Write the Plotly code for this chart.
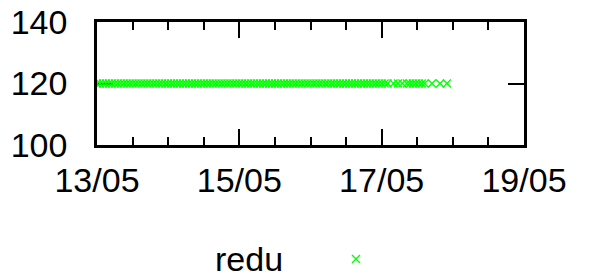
import numpy as np
import plotly.graph_objects as go

# Data: hours since 13/05 00:00 and measured values (series "redu")
series_name = "redu"
start_date = "2013-05-13T00:00"
hours = [
    0, 1, 2, 3, 4, 5, 6, 7, 8, 9, 10, 11, 12, 13, 14, 15, 16, 17, 18, 19,
    20, 21, 22, 23, 24, 25, 26, 27, 28, 29, 30, 31, 32, 33, 34, 35, 36, 37, 38, 39,
    40, 41, 42, 43, 44, 45, 46, 47, 48, 49, 50, 51, 52, 53, 54, 55, 56, 57, 58, 59,
    60, 61, 62, 63, 64, 65, 66, 67, 68, 69, 70, 71, 72, 73, 74, 75, 76, 77, 78, 79,
    80, 81, 82, 83, 84, 85, 86, 87, 88, 89, 90, 91, 92, 93, 94, 95, 96, 97, 98,
    100, 101.5, 103, 104.5, 105.5, 106.5, 107.5, 108.5, 109.5, 110.5, 113, 115.7, 118,
]
values = [
    120, 120, 120, 120, 120, 120, 120, 120, 120, 120, 120, 120, 120, 120, 120, 120, 120, 120, 120, 120,
    120, 120, 120, 120, 120, 120, 120, 120, 120, 120, 120, 120, 120, 120, 120, 120, 120, 120, 120, 120,
    120, 120, 120, 120, 120, 120, 120, 120, 120, 120, 120, 120, 120, 120, 120, 120, 120, 120, 120, 120,
    120, 120, 120, 120, 120, 120, 120, 120, 120, 120, 120, 120, 120, 120, 120, 120, 120, 120, 120, 120,
    120, 120, 120, 120, 120, 120, 120, 120, 120, 120, 120, 120, 120, 120, 120, 120, 120, 120, 120,
    120, 120, 120, 120, 120, 120, 120, 120, 120, 120, 120, 120, 120,
]
x_range = ["2013-05-13", "2013-05-19"]
y_range = [100, 140]
y_ticks = [100, 120, 140]

base = np.datetime64(start_date)
times = [base + np.timedelta64(int(round(h * 60)), "m") for h in hours]
times = [str(t).replace("T", " ") for t in times]

# page has an 8px body margin; figure sized to reach the 589x277 window edges
OFF = 8
W, H = 589 - OFF, 277 - OFF
# plot rectangle in page pixels
PL, PR, PT, PB = 97, 524, 22, 145
xl, xr = PL - OFF, PR - OFF
yt, yb = PT - OFF, PB - OFF

FONT = "Liberation Sans, Arial, sans-serif"
FS = 34
GREEN = "rgb(0,255,0)"
MARKER = dict(symbol="x-thin-open", size=8, color=GREEN, line=dict(color=GREEN, width=1.3))

fig = go.Figure()
fig.add_trace(go.Scatter(
    x=times, y=values, mode="markers", name=series_name, showlegend=False,
    marker=MARKER,
))

# legend key (gnuplot style: text then sample), on pixel-unit overlay axes
fig.add_trace(go.Scatter(
    x=[356 - OFF], y=[259 - OFF], mode="markers", xaxis="x2", yaxis="y2",
    showlegend=False, hoverinfo="skip", marker=MARKER,
))
fig.add_annotation(
    x=285 - OFF, y=259 - OFF, xref="x2", yref="y2", text=series_name,
    showarrow=False, xanchor="right", yanchor="middle",
    font=dict(family=FONT, size=FS, color="black"),
)

fig.update_layout(
    width=W, height=H, margin=dict(l=0, r=0, t=0, b=0),
    paper_bgcolor="white", plot_bgcolor="rgba(0,0,0,0)",
    font=dict(family=FONT, size=FS, color="black"),
    xaxis=dict(
        domain=[xl / W, xr / W], anchor="y",
        type="date", range=x_range, tickformat="%d/%m",
        dtick=2 * 86400000, tick0="2013-05-13",
        showline=True, linecolor="black", linewidth=2.5, mirror="allticks",
        ticks="inside", ticklen=16, tickwidth=2, tickcolor="black",
        minor=dict(dtick=12 * 3600000, ticks="inside", ticklen=8,
                   tickwidth=2, tickcolor="black", showgrid=False),
        showgrid=False, zeroline=False, layer="below traces", automargin=False,
        tickfont=dict(family=FONT, size=FS), ticklabelstandoff=3,
        ticklabeloverflow="allow",
    ),
    yaxis=dict(
        domain=[1 - yb / H, 1 - yt / H], anchor="x",
        range=y_range, tickvals=y_ticks,
        showline=True, linecolor="black", linewidth=2.5, mirror="allticks",
        ticks="inside", ticklen=16, tickwidth=2, tickcolor="black",
        showgrid=False, zeroline=False, layer="below traces", automargin=False,
        tickfont=dict(family=FONT, size=FS), ticklabelstandoff=20,
        ticklabeloverflow="allow",
    ),
    xaxis2=dict(domain=[0, 1], range=[0, W], visible=False, anchor="y2", fixedrange=True),
    yaxis2=dict(domain=[0, 1], range=[H, 0], visible=False, anchor="x2", fixedrange=True),
)

fig.write_html("out.html")
